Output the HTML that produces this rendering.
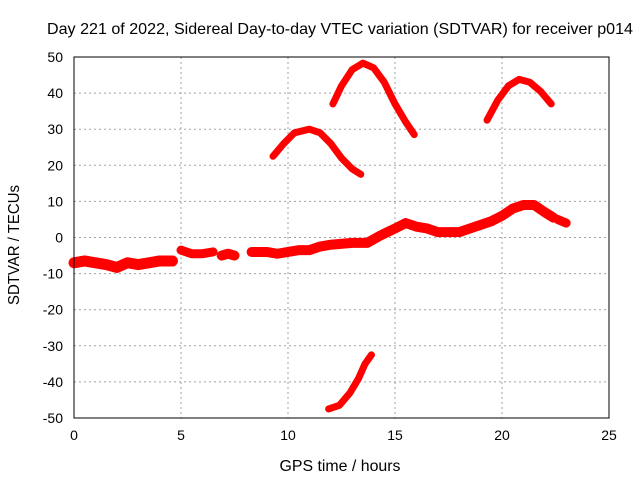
<!DOCTYPE html>
<html><head><meta charset="utf-8"><style>
body{margin:0;background:#fff}
svg text{font-family:"Liberation Sans",sans-serif;font-size:14px;fill:#000}
svg text.big{font-size:16px}
</style></head><body>
<svg id="chart" width="640" height="480" xmlns="http://www.w3.org/2000/svg">
<rect width="640" height="480" fill="#fff"/>
<text class="big" x="340" y="34" text-anchor="middle" textLength="586" lengthAdjust="spacingAndGlyphs">Day 221 of 2022, Sidereal Day-to-day VTEC variation (SDTVAR) for receiver p014</text>
<text class="big" x="340" y="471" text-anchor="middle" textLength="121" lengthAdjust="spacingAndGlyphs">GPS time / hours</text>
<text class="big" transform="translate(19,245) rotate(-90)" text-anchor="middle" textLength="120" lengthAdjust="spacingAndGlyphs">SDTVAR / TECUs</text>
<g id="grid"></g><g id="ticks"></g><g id="series"></g>
<rect x="74" y="57" width="535" height="361" fill="none" stroke="#000" stroke-width="1"/>
</svg>
<script>
const xTicks=[0,5,10,15,20,25];
const yTicks=[-50,-40,-30,-20,-10,0,10,20,30,40,50];
const arcHighX=[12.1,12.5,13,13.5,14,14.5,15,15.5,15.9];
const arcHighY=[37,42,46.5,48.3,47,43,37,32,28.5];
const arcMidX=[9.3,9.8,10.3,11,11.5,12,12.5,13,13.4];
const arcMidY=[22.5,26,29,30,29,26,22,19,17.5];
const arcLateX=[19.3,19.8,20.3,20.8,21.3,21.8,22.3];
const arcLateY=[32.5,38,42,43.8,43,40.5,37];
const arcNegX=[11.9,12.4,12.9,13.3,13.6,13.9];
const arcNegY=[-47.5,-46.5,-43,-39,-35,-32.5];
const base1X=[0,0.5,1,1.5,2,2.5,3,3.5,4,4.6];
const base1Y=[-7,-6.5,-7,-7.5,-8.3,-7,-7.5,-7,-6.5,-6.5];
const base2X=[5.0,5.5,6,6.5];
const base2Y=[-3.5,-4.5,-4.5,-4];
const base3X=[6.9,7.2,7.5];
const base3Y=[-5,-4.5,-5];
const base4X=[8.3,9,9.5,10,10.5,11,11.5,12,13,13.7,14.3,15,15.5,16,16.5,17,17.5,18,18.5,19,19.5,20,20.5,21,21.5,22,22.4];
const base4Y=[-4,-4,-4.5,-4,-3.5,-3.5,-2.5,-2,-1.5,-1.5,0.5,2.5,4,3,2.5,1.5,1.5,1.5,2.5,3.5,4.5,6,8,9,9,7,5.5];
const base5X=[22.6,23];
const base5Y=[5,4];
const L=74,R=609,T=57,B=418;
const sx=v=>L+(v-0)/25*(R-L);
const sy=v=>B-(v+50)/100*(B-T);
const NS="http://www.w3.org/2000/svg";
const grid=document.getElementById('grid'),ticks=document.getElementById('ticks'),ser=document.getElementById('series');
function mk(tag,attrs,parent){const e=document.createElementNS(NS,tag);for(const k in attrs)e.setAttribute(k,attrs[k]);parent.appendChild(e);return e;}
xTicks.forEach(v=>{
 const x=sx(v);
 if(v>0&&v<25){const g=mk('line',{x1:x,x2:x,y1:T,y2:B,stroke:'#a0a0a0','stroke-dasharray':'2,3'},grid);
 
 }
 const t=mk('text',{x:x,y:B+22,'text-anchor':'middle'},ticks);t.textContent=v;
 
 
});
yTicks.forEach(v=>{
 const y=sy(v);
 if(v>-50&&v<50){const g=mk('line',{x1:L,x2:R,y1:y,y2:y,stroke:'#a0a0a0','stroke-dasharray':'2,3'},grid);
 
 }
 const t=mk('text',{x:L-11,y:y+5,'text-anchor':'end'},ticks);t.textContent=v;
 
 
});
const segs=[[arcHighX,arcHighY,7,'arc-high'],[arcMidX,arcMidY,7,'arc-mid'],[arcLateX,arcLateY,7,'arc-late'],[arcNegX,arcNegY,7,'arc-negative'],
[base1X,base1Y,11,'baseline-seg1'],[base2X,base2Y,9,'baseline-seg2'],[base3X,base3Y,10,'baseline-seg3'],[base4X,base4Y,10,'baseline-seg4'],[base5X,base5Y,9,'baseline-seg5']];
segs.forEach(([xs,ys,w,name])=>{
 const pts=xs.map((x,i)=>sx(x)+','+sy(ys[i])).join(' ');
 const p=mk('polyline',{points:pts,fill:'none',stroke:'#ff0000','stroke-width':w,'stroke-linejoin':'round','stroke-linecap':'round'},ser);
 
 
});
</script>
</body></html>
